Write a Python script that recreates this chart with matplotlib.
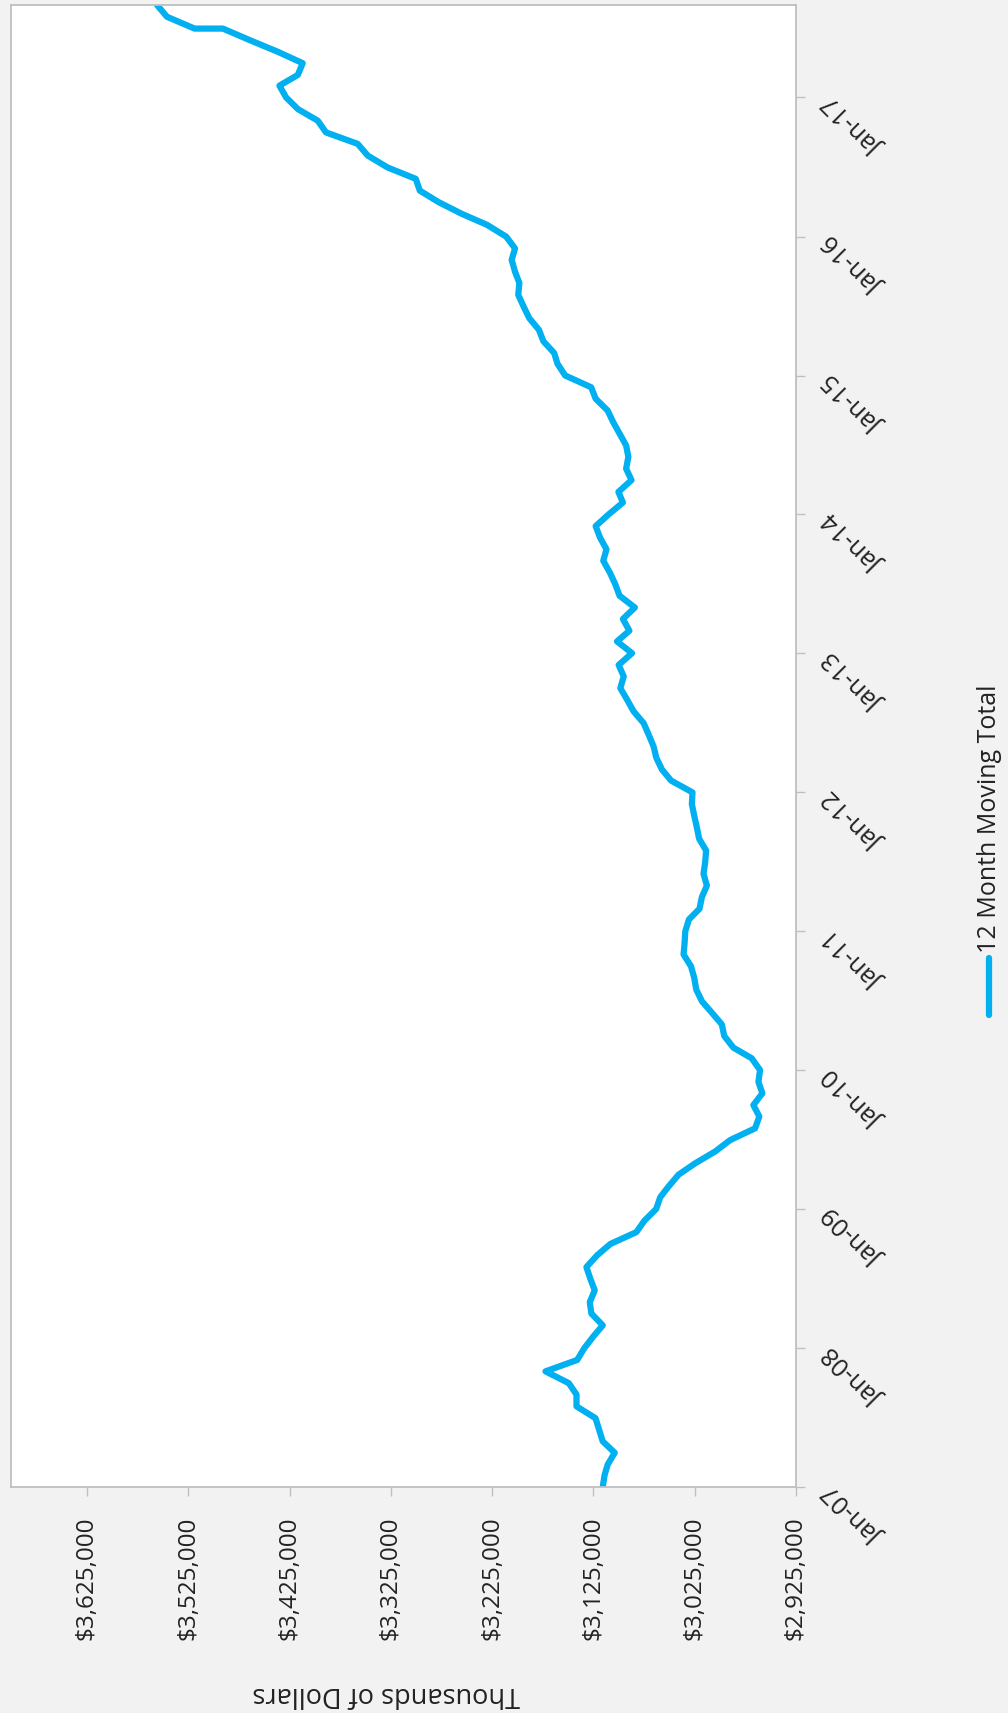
import pandas as pd
import matplotlib
matplotlib.use("Agg")
import matplotlib.pyplot as plt
import matplotlib.dates as mdates
from matplotlib.lines import Line2D

plt.rcParams["font.family"] = ["Open Sans", "DejaVu Sans"]

# 12 month moving total (thousands of dollars), monthly Jan-07 .. Sep-17
months = list(pd.date_range("2007-01-01", "2017-09-01", freq="MS"))
# the source has Jul-17 twice (flat step near the top)
months.insert(months.index(pd.Timestamp("2017-07-01")), pd.Timestamp("2017-07-01"))

moving_total = [
    3115800, 3114000, 3110900, 3104000, 3115800, 3119400, 3123000, 3141700, 3141700, 3149300, 3172300, 3141000,
    3134000, 3125000, 3115800, 3127000, 3128600, 3123700, 3128000, 3131900, 3121400, 3108200, 3082600, 3074700,
    3063000, 3059000, 3050800, 3041000, 3024500, 3004800, 2990000, 2965400, 2961200, 2967100, 2958200, 2962100,
    2960500, 2968700, 2986800, 2995900, 2998200, 3008100, 3017900, 3023500, 3025500, 3028700, 3036000, 3035000,
    3034300, 3030700, 3020300, 3017900, 3013000, 3016300, 3014700, 3013700, 3020600, 3022900, 3025500, 3027800,
    3027200, 3048300, 3057300, 3062900, 3065600, 3070500, 3075400, 3085300, 3091800, 3098400, 3095100, 3100100,
    3086900, 3101700, 3089500, 3095900, 3084100, 3099200, 3103400, 3108800, 3115300, 3112100, 3118500, 3122800,
    3109900, 3095900, 3100300, 3087400, 3092700, 3090500, 3092700, 3099200, 3105600, 3111000, 3122800, 3127200,
    3152900, 3160500, 3163700, 3174400, 3178800, 3188400, 3193900, 3199200, 3198100, 3202400, 3205700, 3202400,
    3211100, 3230000, 3255000, 3278000, 3296400, 3300400, 3328300, 3347700, 3357800, 3389000, 3397200, 3416600,
    3428400, 3435000, 3416900, 3412000, 3436600, 3464600, 3490800, 3518800, 3546000, 3555800,
]

value_ticks = [2925000, 3025000, 3125000, 3225000, 3325000, 3425000, 3525000, 3625000]
year_ticks = list(pd.date_range("2007-01-01", "2017-01-01", freq="YS"))

LINE = "#00B0F0"
GRID = "#BFBFBF"
TXT = "#222222"
W, H = 1008, 1713

fig = plt.figure(figsize=(W / 100, H / 100), dpi=100, facecolor="#F2F2F2")
ax = fig.add_axes([11 / W, 1 - 1487 / H, 785 / W, 1482 / H])
ax.set_facecolor("white")

# chart is drawn rotated: time runs upward, value grows to the left
y = mdates.date2num(months)
ax.plot(moving_total, y, color=LINE, lw=4.5, solid_joinstyle="round", solid_capstyle="round")
ax.set_xlim(3700000, 2925000)
ax.set_ylim(mdates.date2num(year_ticks[0]), y[-1])

ax.set_xticks(value_ticks)
ax.set_xticklabels([f"${v:,.0f}" for v in value_ticks], rotation=90, fontsize=17.5, color=TXT)
ax.yaxis.tick_right()
ax.set_yticks(mdates.date2num(year_ticks))
ax.set_yticklabels([])
for d in year_ticks:
    ax.annotate(d.strftime("%b-%y"), xy=(1, mdates.date2num(d)), xycoords=("axes fraction", "data"),
                xytext=(59, -27), textcoords="offset pixels", rotation=135, rotation_mode="anchor",
                ha="center", va="center", fontsize=18, color=TXT, annotation_clip=False)

ax.tick_params(axis="x", direction="out", length=6.5, width=1, color=GRID, pad=15)
ax.tick_params(axis="y", direction="out", length=6.5, width=1, color=GRID)
for s in ax.spines.values():
    s.set_color(GRID)
    s.set_linewidth(1.3)

fig.text(386 / W, 1 - 1694 / H, "Thousands of Dollars", rotation=180, ha="center", va="center",
         fontsize=19.5, color=TXT)

# legend, drawn by hand because it is rotated too
fig.add_artist(Line2D([989 / W, 989 / W], [1 - 958 / H, 1 - 1015 / H], transform=fig.transFigure,
                      color=LINE, lw=4.5, solid_capstyle="round"))
fig.text(990 / W, 1 - 953 / H, "12 Month Moving Total", rotation=90, ha="center", va="bottom",
         fontsize=18, color=TXT)

fig.savefig("out.png", dpi=100, facecolor=fig.get_facecolor())
